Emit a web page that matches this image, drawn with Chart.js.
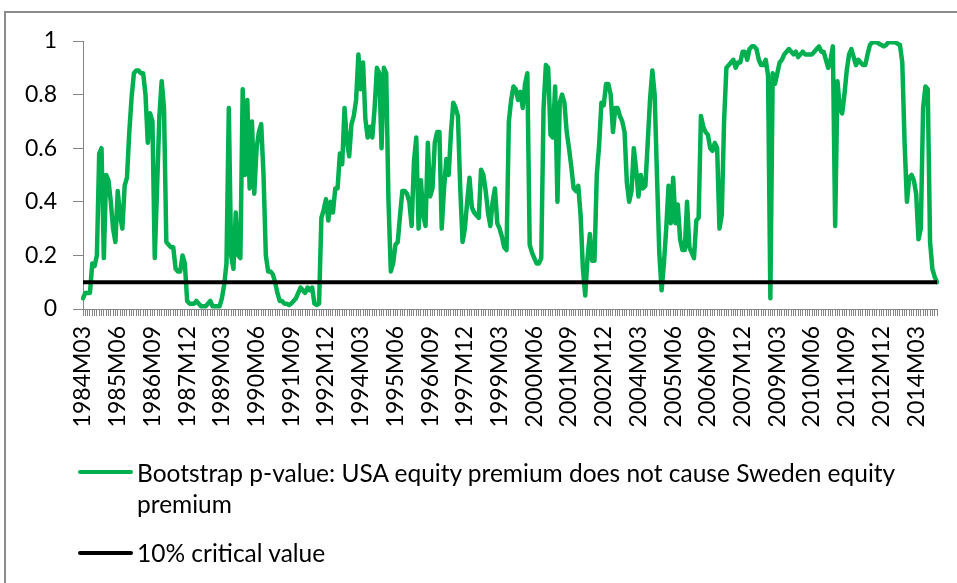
<!DOCTYPE html>
<html>
<head>
<meta charset="utf-8">
<script src="https://cdn.jsdelivr.net/npm/chart.js@4.4.1/dist/chart.umd.min.js"></script>
<style>
  body { margin: 0; background: #fff; }
  #wrap { position: relative; width: 957px; height: 583px; overflow: hidden; background: #fff; font-family: Lato, sans-serif; }
  #frame { position: absolute; left: 4px; top: 11px; width: 1000px; height: 700px; border: 2px solid #8c8c8c; }
  canvas { position: absolute; left: 0; top: 0; }
  .swatch { position: absolute; left: 78px; width: 55px; height: 4px; border-radius: 2px; }
  .legtext { position: absolute; left: 137px; font-size: 24.5px; line-height: 31px; color: #000; white-space: nowrap; }
</style>
</head>
<body>
<div id="wrap">
  <div id="frame"></div>
  <canvas id="pvalueChart" width="957" height="583"></canvas>
  <div class="swatch" style="top:470px;background:#00B050"></div>
  <div class="legtext" style="top:457px">Bootstrap p-value: USA equity premium does not cause Sweden equity<br>premium</div>
  <div class="swatch" style="top:551px;background:#000"></div>
  <div class="legtext" style="top:537px">10% critical value</div>
</div>
<script>
// monthly sample starts 1984M03
const startYear = 1984;
const startMonth = 3;

// labels Excel shows on the axis (every 15th month)
const shownLabels = [
    '1984M03', '1985M06', '1986M09', '1987M12', '1989M03', '1990M06', '1991M09', '1992M12',
    '1994M03', '1995M06', '1996M09', '1997M12', '1999M03', '2000M06', '2001M09', '2002M12',
    '2004M03', '2005M06', '2006M09', '2007M12', '2009M03', '2010M06', '2011M09', '2012M12', '2014M03'
];

// bootstrap p-values, one per month
const pValues = [
    0.04, 0.06, 0.06, 0.06, 0.17, 0.16, 0.20, 0.58, 0.60, 0.19,
    0.50, 0.48, 0.40, 0.30, 0.25, 0.44, 0.35, 0.30, 0.46, 0.49,
    0.66, 0.79, 0.88, 0.89, 0.89, 0.88, 0.88, 0.80, 0.62, 0.73,
    0.70, 0.19, 0.45, 0.72, 0.85, 0.75, 0.25, 0.24, 0.23, 0.23,
    0.15, 0.14, 0.14, 0.20, 0.17, 0.03, 0.02, 0.02, 0.02, 0.03,
    0.02, 0.01, 0.01, 0.01, 0.02, 0.03, 0.01, 0.01, 0.01, 0.01,
    0.04, 0.09, 0.17, 0.75, 0.20, 0.15, 0.36, 0.20, 0.19, 0.82,
    0.50, 0.78, 0.45, 0.70, 0.43, 0.60, 0.66, 0.69, 0.50, 0.20,
    0.14, 0.14, 0.13, 0.10, 0.06, 0.03, 0.03, 0.02, 0.02, 0.015,
    0.02, 0.03, 0.04, 0.06, 0.08, 0.07, 0.06, 0.08, 0.07, 0.08,
    0.02, 0.015, 0.02, 0.34, 0.37, 0.41, 0.33, 0.40, 0.36, 0.45,
    0.45, 0.58, 0.54, 0.75, 0.63, 0.57, 0.69, 0.72, 0.78, 0.95,
    0.82, 0.92, 0.71, 0.64, 0.68, 0.64, 0.75, 0.90, 0.88, 0.60,
    0.90, 0.88, 0.40, 0.14, 0.17, 0.24, 0.25, 0.35, 0.44, 0.44,
    0.43, 0.40, 0.31, 0.55, 0.64, 0.30, 0.48, 0.35, 0.31, 0.62,
    0.42, 0.45, 0.62, 0.66, 0.66, 0.30, 0.45, 0.56, 0.50, 0.66,
    0.77, 0.75, 0.72, 0.45, 0.25, 0.30, 0.40, 0.49, 0.38, 0.36,
    0.35, 0.34, 0.52, 0.50, 0.44, 0.36, 0.31, 0.40, 0.45, 0.32,
    0.30, 0.27, 0.23, 0.22, 0.70, 0.78, 0.83, 0.82, 0.78, 0.81,
    0.75, 0.84, 0.88, 0.24, 0.21, 0.19, 0.17, 0.17, 0.19, 0.75,
    0.91, 0.90, 0.65, 0.64, 0.83, 0.40, 0.77, 0.80, 0.77, 0.66,
    0.60, 0.53, 0.45, 0.44, 0.46, 0.35, 0.15, 0.05, 0.19, 0.28,
    0.18, 0.18, 0.50, 0.61, 0.77, 0.76, 0.84, 0.84, 0.80, 0.66,
    0.75, 0.75, 0.72, 0.70, 0.66, 0.47, 0.40, 0.44, 0.60, 0.52,
    0.42, 0.50, 0.45, 0.46, 0.62, 0.78, 0.89, 0.80, 0.50, 0.21,
    0.07, 0.17, 0.30, 0.46, 0.32, 0.49, 0.32, 0.39, 0.26, 0.22,
    0.22, 0.40, 0.23, 0.21, 0.19, 0.33, 0.34, 0.72, 0.68, 0.66,
    0.65, 0.60, 0.59, 0.62, 0.60, 0.30, 0.35, 0.70, 0.90, 0.91,
    0.92, 0.93, 0.90, 0.92, 0.92, 0.96, 0.96, 0.93, 0.97, 0.98,
    0.98, 0.97, 0.93, 0.91, 0.91, 0.93, 0.87, 0.04, 0.88, 0.84,
    0.88, 0.92, 0.93, 0.95, 0.96, 0.97, 0.96, 0.95, 0.96, 0.94,
    0.95, 0.96, 0.95, 0.95, 0.95, 0.95, 0.96, 0.97, 0.98, 0.96,
    0.96, 0.93, 0.90, 0.93, 0.98, 0.31, 0.85, 0.75, 0.73, 0.80,
    0.89, 0.95, 0.97, 0.94, 0.91, 0.93, 0.92, 0.91, 0.91, 0.95,
    0.985, 0.995, 0.995, 0.995, 0.99, 0.985, 0.98, 0.985, 0.995, 0.995,
    0.995, 0.995, 0.99, 0.985, 0.92, 0.62, 0.40, 0.49, 0.50, 0.48,
    0.43, 0.26, 0.30, 0.75, 0.83, 0.82, 0.25, 0.15, 0.12, 0.10
];

const criticalValue = 0.10;

const categories = pValues.map((_, k) => {
    const m = startMonth - 1 + k;
    return `${startYear + Math.floor(m / 12)}M${String(m % 12 + 1).padStart(2, '0')}`;
});

const axisGray = '#868686';

document.fonts.load('23px Lato').then(() => {
    const ctx = document.getElementById('pvalueChart').getContext('2d');
    new Chart(ctx, {
        type: 'line',
        data: {
            labels: categories,
            datasets: [{
                label: 'Bootstrap p-value: USA equity premium does not cause Sweden equity premium',
                data: pValues,
                borderColor: '#00B050',
                borderWidth: 4.5,
                pointRadius: 0,
                borderJoinStyle: 'round',
                borderCapStyle: 'round',
                tension: 0,
                order: 1,
            }, {
                label: '10% critical value',
                data: categories.map(() => criticalValue),
                borderColor: '#000000',
                borderWidth: 4,
                pointRadius: 0,
                order: 0,
            }],
        },
        options: {
            responsive: false,
            animation: false,
            layout: {
                padding: { left: 0, right: 20, top: 41, bottom: 149 },
            },
            plugins: {
                legend: { display: false },
                tooltip: { enabled: false },
            },
            scales: {
                x: {
                    type: 'category',
                    afterFit: (scale) => {
                        scale.height = 125;
                        // rotated labels would otherwise eat into the right side
                        scale.paddingLeft = 0;
                        scale.paddingRight = 0;
                    },
                    border: { color: axisGray, width: 1 },
                    grid: {
                        drawOnChartArea: false,
                        drawTicks: true,
                        tickLength: 7,
                        color: axisGray,
                    },
                    ticks: {
                        autoSkip: false,
                        maxRotation: 90,
                        minRotation: 90,
                        padding: 10,
                        color: '#000',
                        font: { family: 'Lato', size: 23 },
                        callback: function (value) {
                            const lab = this.getLabelForValue(value);
                            return shownLabels.includes(lab) ? lab : '';
                        },
                    },
                },
                y: {
                    min: 0,
                    max: 1,
                    afterFit: (scale) => { scale.width = 83; },
                    border: { color: axisGray, width: 1 },
                    grid: {
                        drawOnChartArea: false,
                        drawTicks: true,
                        tickLength: 10,
                        color: axisGray,
                    },
                    ticks: {
                        stepSize: 0.2,
                        padding: 16,
                        color: '#000',
                        font: { family: 'Lato', size: 23 },
                        callback: (v) => String(Math.round(v * 10) / 10),
                    },
                },
            },
        },
    });
});
</script>
</body>
</html>
